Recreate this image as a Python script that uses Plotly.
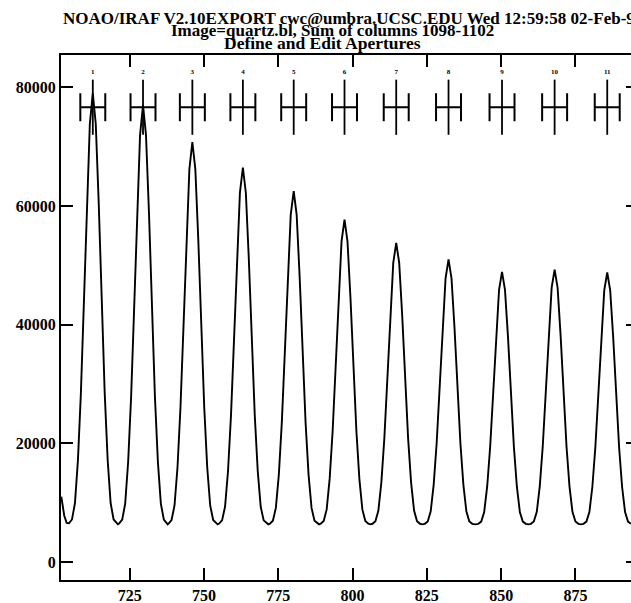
import plotly.graph_objects as go

# ---- data ----
curve_x = [
    702.0, 703.0, 703.8,
    704.6, 705.6, 706.6, 707.6, 708.6, 709.6, 710.6, 711.6, 712.6, 713.6, 714.6, 715.6, 716.6, 717.6, 718.6, 719.6, 720.6,
    721.05,
    721.5, 722.5, 723.5, 724.5, 725.5, 726.5, 727.5, 728.5, 729.5, 730.5, 731.5, 732.5, 733.5, 734.5, 735.5, 736.5, 737.5,
    737.8,
    738.1, 739.1, 740.1, 741.1, 742.1, 743.1, 744.1, 745.1, 746.1, 747.1, 748.1, 749.1, 750.1, 751.1, 752.1, 753.1, 754.1,
    754.6,
    755.1, 756.1, 757.1, 758.1, 759.1, 760.1, 761.1, 762.1, 763.1, 764.1, 765.1, 766.1, 767.1, 768.1, 769.1, 770.1, 771.1,
    771.65,
    772.2, 773.2, 774.2, 775.2, 776.2, 777.2, 778.2, 779.2, 780.2, 781.2, 782.2, 783.2, 784.2, 785.2, 786.2, 787.2, 788.2,
    788.75,
    789.3, 790.3, 791.3, 792.3, 793.3, 794.3, 795.3, 796.3, 797.3, 798.3, 799.3, 800.3, 801.3, 802.3, 803.3, 804.3, 805.3,
    806.0,
    806.7, 807.7, 808.7, 809.7, 810.7, 811.7, 812.7, 813.7, 814.7, 815.7, 816.7, 817.7, 818.7, 819.7, 820.7, 821.7, 822.7,
    823.5,
    824.3, 825.3, 826.3, 827.3, 828.3, 829.3, 830.3, 831.3, 832.3, 833.3, 834.3, 835.3, 836.3, 837.3, 838.3, 839.3, 840.3,
    841.3,
    842.3, 843.3, 844.3, 845.3, 846.3, 847.3, 848.3, 849.3, 850.3, 851.3, 852.3, 853.3, 854.3, 855.3, 856.3, 857.3, 858.3,
    859.15,
    860.0, 861.0, 862.0, 863.0, 864.0, 865.0, 866.0, 867.0, 868.0, 869.0, 870.0, 871.0, 872.0, 873.0, 874.0, 875.0, 876.0,
    876.85,
    877.7, 878.7, 879.7, 880.7, 881.7, 882.7, 883.7, 884.7, 885.7, 886.7, 887.7, 888.7, 889.7, 890.7, 891.7, 892.7, 893.7,
]
curve_y = [
    11000, 7800, 6600,
    6520, 7170, 9940, 17200, 28550, 43670, 60390, 73840, 79000, 73840, 60390, 43670, 28550, 17200, 9940, 7170, 6520,
    6350,
    6510, 7150, 9840, 16900, 27930, 42640, 58900, 71980, 77000, 71980, 58900, 42640, 27930, 16900, 9840, 7150, 6510,
    6350,
    6490, 7070, 9530, 15980, 26040, 39450, 54290, 66220, 70800, 66220, 54290, 39450, 26040, 15980, 9530, 7070, 6490,
    6350,
    6480, 7020, 9310, 15330, 24720, 37240, 51090, 62230, 66500, 62230, 51090, 37240, 24720, 15330, 9310, 7020, 6480,
    6350,
    6470, 6970, 9110, 14730, 23500, 35190, 48110, 58510, 62500, 58510, 48110, 35190, 23500, 14730, 9110, 6970, 6470,
    6350,
    6450, 6920, 8870, 14010, 22030, 32720, 44540, 54050, 57700, 54050, 44540, 32720, 22030, 14010, 8870, 6920, 6450,
    6350,
    6440, 6870, 8680, 13430, 20840, 30720, 41640, 50430, 53800, 50430, 41640, 30720, 20840, 13430, 8680, 6870, 6440,
    6350,
    6430, 6840, 8540, 13010, 19980, 29280, 39560, 47830, 51000, 47830, 39560, 29280, 19980, 13010, 8540, 6840, 6430,
    6350,
    6430, 6810, 8430, 12690, 19340, 28200, 37990, 45880, 48900, 45880, 37990, 28200, 19340, 12690, 8430, 6810, 6430,
    6350,
    6430, 6820, 8450, 12750, 19460, 28400, 38290, 46250, 49300, 46250, 38290, 28400, 19460, 12750, 8450, 6820, 6430,
    6350,
    6430, 6810, 8430, 12680, 19310, 28150, 37920, 45780, 48800, 45780, 37920, 28150, 19310, 12680, 8430, 6810, 6430,
]

aperture_centers = [712.6, 729.5, 746.1, 763.1, 780.2, 797.3, 814.7, 832.3, 850.3, 868.0, 885.7]
aperture_labels = ["1", "2", "3", "4", "5", "6", "7", "8", "9", "10", "11"]
aperture_level = [76660] * 11
aperture_halfwidth = [4.2] * 11
aperture_marker_half = [4650] * 11
label_level = [82560] * 11

x_ticks = [725, 750, 775, 800, 825, 850, 875]
y_ticks = [0, 20000, 40000, 60000, 80000]
x_range = [701.9, 893.7]
y_range = [-3035, 85464]

title_lines = [
    "NOAO/IRAF V2.10EXPORT cwc@umbra.UCSC.EDU Wed 12:59:58 02-Feb-94",
    "Image=quartz.bl, Sum of columns 1098-1102",
    "Define and Edit Apertures",
]
title_sizes = [17, 17, 17.5]

FONT = "Liberation Serif"

fig = go.Figure()
fig.add_trace(go.Scatter(
    x=curve_x, y=curve_y, mode="lines",
    line=dict(color="black", width=1.9),
    hoverinfo="skip", showlegend=False,
))
fig.add_trace(go.Scatter(
    x=aperture_centers, y=aperture_level, mode="markers",
    marker=dict(size=1, color="black", opacity=0),
    error_x=dict(type="data", array=aperture_halfwidth, color="black", thickness=2, width=14),
    error_y=dict(type="data", array=aperture_marker_half, color="black", thickness=1.8, width=0),
    hoverinfo="skip", showlegend=False,
))
fig.add_trace(go.Scatter(
    x=aperture_centers, y=label_level, mode="text",
    text=["<b>%s</b>" % s for s in aperture_labels],
    textfont=dict(family=FONT, size=7, color="black"),
    hoverinfo="skip", showlegend=False,
))
# invisible trace on right-hand axis (for the inward mirror ticks only)
fig.add_trace(go.Scatter(x=[None], y=[None], yaxis="y2", showlegend=False, hoverinfo="skip"))

L, R, T, B = 61, 0, 55, 23
plot_w = 631 - L - R
plot_h = 603 - T - B

def px_to_paper_x(px):
    return (px - L) / plot_w

def px_to_paper_y(py):
    return 1 + (T - py) / plot_h

annotations = [
    dict(text="<b>%s</b>" % title_lines[0], x=px_to_paper_x(61), y=px_to_paper_y(18.5),
         xanchor="left", yanchor="middle", font=dict(size=title_sizes[0])),
    dict(text="<b>%s</b>" % title_lines[1], x=px_to_paper_x(332.5), y=px_to_paper_y(31),
         xanchor="center", yanchor="middle", font=dict(size=title_sizes[1])),
    dict(text="<b>%s</b>" % title_lines[2], x=px_to_paper_x(322), y=px_to_paper_y(43),
         xanchor="center", yanchor="middle", font=dict(size=title_sizes[2])),
]
for a in annotations:
    a["font"].update(family=FONT, color="black")
    a.update(xref="paper", yref="paper", showarrow=False)

fig.update_layout(
    width=631, height=603,
    margin=dict(l=L, r=R, t=T, b=B, pad=0),
    paper_bgcolor="white", plot_bgcolor="white",
    showlegend=False,
    annotations=annotations,
    xaxis=dict(
        range=x_range, tickvals=x_ticks, ticktext=["<b>%d</b>" % v for v in x_ticks],
        showgrid=False, zeroline=False,
        showline=True, linecolor="black", linewidth=2, mirror="ticks",
        ticks="inside", ticklen=12, tickwidth=2, tickcolor="black",
        tickfont=dict(family=FONT, size=16, color="black"),
    ),
    yaxis=dict(
        range=y_range, tickvals=y_ticks, ticktext=["<b>%d</b>" % v for v in y_ticks],
        showgrid=False, zeroline=False,
        showline=True, linecolor="black", linewidth=2, mirror=False,
        ticks="inside", ticklen=12, tickwidth=2, tickcolor="black",
        tickfont=dict(family=FONT, size=16, color="black"),
    ),
    yaxis2=dict(
        range=y_range, tickvals=y_ticks, overlaying="y", side="right",
        showgrid=False, zeroline=False, showline=False, showticklabels=False,
        ticks="inside", ticklen=5, tickwidth=2, tickcolor="black",
    ),
)

fig.write_html("out.html")
